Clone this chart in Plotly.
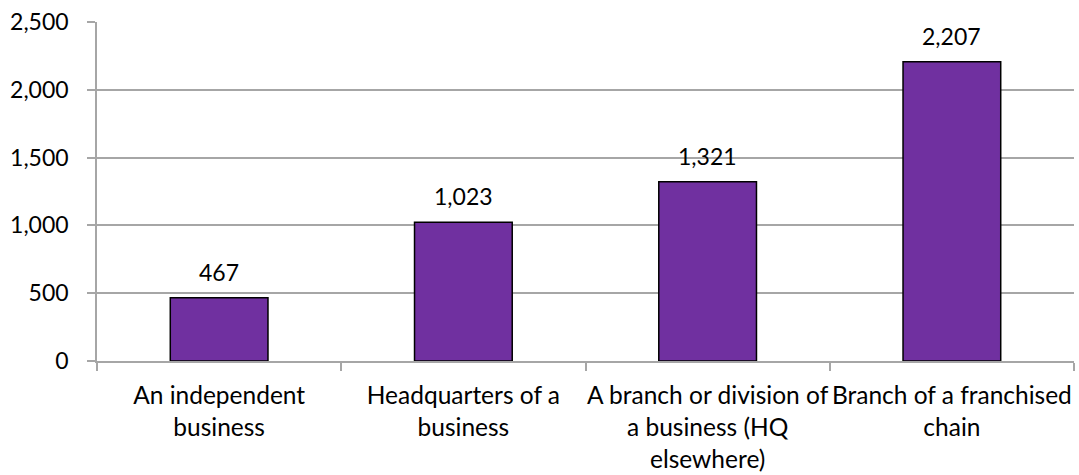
import plotly.graph_objects as go

categories = [
    "An independent<br>business",
    "Headquarters of a<br>business",
    "A branch or division of<br>a business (HQ<br>elsewhere)",
    "Branch of a franchised<br>chain",
]
values = [467, 1023, 1321, 2207]
value_labels = ["467", "1,023", "1,321", "2,207"]
y_ticks = [0, 500, 1000, 1500, 2000, 2500]

FONT = "Lato, Carlito, sans-serif"
GRID = "#a6a6a6"

fig = go.Figure(
    go.Bar(
        x=categories,
        y=values,
        width=0.4,
        marker=dict(color="#7030a0", line=dict(color="#000000", width=1.5)),
        hoverinfo="skip",
    )
)

for cat, v, lab in zip(categories, values, value_labels):
    fig.add_annotation(
        x=cat, y=v, text=lab, showarrow=False,
        yanchor="bottom", yshift=10,
        font=dict(family=FONT, size=23, color="#000000"),
    )

fig.update_layout(
    width=1079, height=475,
    margin=dict(l=97, r=5, t=22, b=114),
    paper_bgcolor="white", plot_bgcolor="white",
    showlegend=False,
    font=dict(family=FONT, size=23, color="#000000"),
)
fig.update_xaxes(
    type="category",
    tickson="boundaries",
    tickangle=0,
    automargin=False,
    ticks="outside", ticklen=8, tickcolor=GRID, tickwidth=1.5,
    showline=True, linecolor=GRID, linewidth=1.5,
    showgrid=False,
    tickfont=dict(size=24.5),
    ticklabelstandoff=12,
)
fig.update_yaxes(
    range=[0, 2500],
    tickvals=y_ticks,
    tickformat=",",
    automargin=False,
    ticks="outside", ticklen=8, tickcolor=GRID, tickwidth=1.5,
    showline=True, linecolor=GRID, linewidth=1.5,
    showgrid=True, gridcolor=GRID, gridwidth=1.5,
    zeroline=False,
    ticklabelstandoff=14,
)

fig.write_html("out.html")
